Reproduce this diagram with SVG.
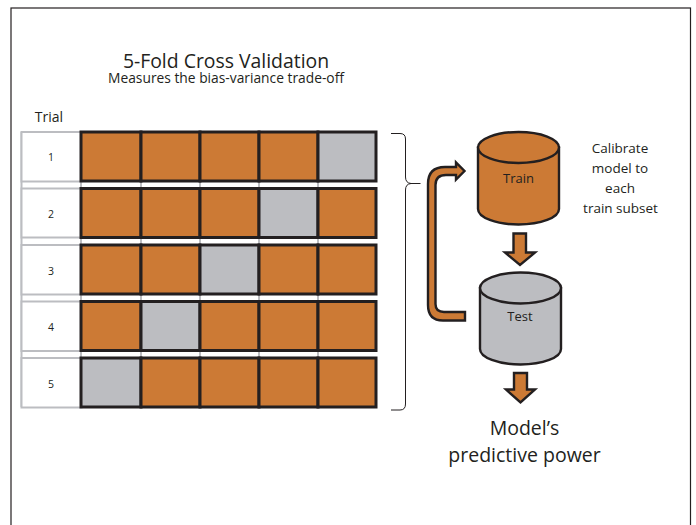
<svg xmlns="http://www.w3.org/2000/svg" width="696" height="525" viewBox="0 0 696 525">
<style>
text{font-family:"Open Sans","Noto Sans",sans-serif;fill:#231f20;text-anchor:middle}
.o{fill:#cc7a35;stroke:#231f20;stroke-width:3}
.g{fill:#bcbdc1;stroke:#231f20;stroke-width:3}
.t{fill:#fff;stroke:#bcbdc1;stroke-width:2}
.n{font-size:10.500px}
.c{font-size:13px}
.l{font-size:13.500px}
.cy{stroke:#231f20;stroke-width:2.400}
.ar{fill:#cc7a35;stroke:#231f20;stroke-width:2.400}
</style>
<rect id="frame" x="11" y="8" width="679.500" height="530" fill="#fff" stroke="#231f20" stroke-width="1.200"/>
<g id="title">
<text x="226" y="67.500" font-size="19.400">5-Fold Cross Validation</text>
<text x="226" y="82.500" font-size="13.800">Measures the bias-variance trade-off</text>
<text x="49" y="122" font-size="14">Trial</text>
</g>
<g id="guides" stroke="#bcbdc1" stroke-width="2">
<line x1="21.500" y1="132" x2="21.500" y2="407"/><line x1="81" y1="132" x2="81" y2="407"/><line x1="141" y1="132" x2="141" y2="407"/><line x1="200" y1="132" x2="200" y2="407"/><line x1="259" y1="132" x2="259" y2="407"/><line x1="318" y1="132" x2="318" y2="407"/>
</g>
<g id="trial1"><rect class="t" x="21.500" y="132" width="60" height="49.500"/><text class="n" x="51" y="161">1</text>
<rect class="o" x="81" y="132" width="60" height="49"/><rect class="o" x="141" y="132" width="59" height="49"/><rect class="o" x="200" y="132" width="59" height="49"/><rect class="o" x="259" y="132" width="59" height="49"/><rect class="g" x="318" y="132" width="58" height="49"/></g>
<g id="trial2"><rect class="t" x="21.500" y="188.500" width="60" height="49"/><text class="n" x="51" y="218">2</text>
<rect class="o" x="81" y="188.500" width="60" height="49"/><rect class="o" x="141" y="188.500" width="59" height="49"/><rect class="o" x="200" y="188.500" width="59" height="49"/><rect class="g" x="259" y="188.500" width="59" height="49"/><rect class="o" x="318" y="188.500" width="58" height="49"/></g>
<g id="trial3"><rect class="t" x="21.500" y="245" width="60" height="49.500"/><text class="n" x="51" y="274.500">3</text>
<rect class="o" x="81" y="245" width="60" height="49"/><rect class="o" x="141" y="245" width="59" height="49"/><rect class="g" x="200" y="245" width="59" height="49"/><rect class="o" x="259" y="245" width="59" height="49"/><rect class="o" x="318" y="245" width="58" height="49"/></g>
<g id="trial4"><rect class="t" x="21.500" y="301.500" width="60" height="49.500"/><text class="n" x="51" y="331">4</text>
<rect class="o" x="81" y="301.500" width="60" height="49"/><rect class="g" x="141" y="301.500" width="59" height="49"/><rect class="o" x="200" y="301.500" width="59" height="49"/><rect class="o" x="259" y="301.500" width="59" height="49"/><rect class="o" x="318" y="301.500" width="58" height="49"/></g>
<g id="trial5"><rect class="t" x="21.500" y="358" width="60" height="49.500"/><text class="n" x="51" y="387.500">5</text>
<rect class="g" x="81" y="358" width="60" height="49"/><rect class="o" x="141" y="358" width="59" height="49"/><rect class="o" x="200" y="358" width="59" height="49"/><rect class="o" x="259" y="358" width="59" height="49"/><rect class="o" x="318" y="358" width="58" height="49"/></g>
<g id="connectors">
<path d="M391 133.500H400Q405.500 133.500 405.500 139V177Q405.500 183 411 183.500H420.500M411 183.500Q405.500 184 405.500 190V404Q405.500 410 400 410H391" fill="none" stroke="#231f20" stroke-width="1"/>
<path class="ar" d="M465 320.500H443Q428 320.500 428 305V184Q428 167 445 167H456V162.500L464.500 171L456 179.500V175H446Q435.500 175 435.500 185V304Q435.500 312 444 312H465Z"/>
<path class="ar" d="M513.500 233.500H526V252.500H535L520 265L505 252.500H513.500Z"/>
<path class="ar" d="M514 373H527V389.500H535L520.500 402.500L506 389.500H514Z"/>
</g>
<g id="train">
<path class="ar" d="M478 147.500V209A40.500 15.500 0 0 0 559 209V147.500Z"/>
<ellipse class="ar" cx="518.500" cy="147.500" rx="40.500" ry="15.500"/>
<text x="518.500" y="183" class="c">Train</text>
</g>
<g id="test">
<path class="cy" fill="#bcbdc1" d="M480 288V349A40.500 15.500 0 0 0 561 349V288Z"/>
<ellipse class="cy" fill="#bcbdc1" cx="520.500" cy="288" rx="40.500" ry="15.500"/>
<text x="520" y="321" class="c">Test</text>
</g>
<g id="labels">
<text x="620" y="153" class="l">Calibrate</text>
<text x="620" y="173" class="l">model to</text>
<text x="620" y="193" class="l">each</text>
<text x="620.500" y="213" class="l">train subset</text>
<text x="524.500" y="435" font-size="19.500">Model’s</text>
<text x="524.500" y="462" font-size="19.500">predictive power</text>
</g>
</svg>
